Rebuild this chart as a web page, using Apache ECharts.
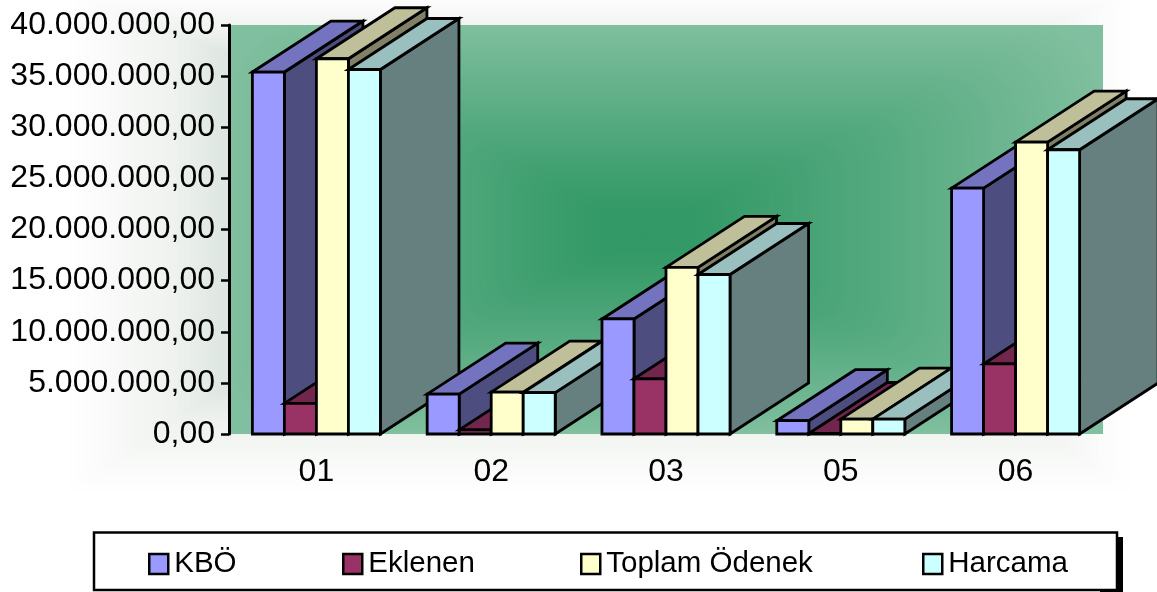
<!DOCTYPE html>
<html>
<head>
<meta charset="utf-8">
<style>html,body{margin:0;padding:0;background:#fff}#c{width:1157px;height:592px}</style>
<script src="https://cdn.jsdelivr.net/npm/echarts@6/dist/echarts.min.js"></script>
</head>
<body>
<div id="c"></div>
<script>
const categories = ['01', '02', '03', '05', '06'];
const seriesNames = ['KBÖ', 'Eklenen', 'Toplam Ödenek', 'Harcama'];
const kbo = [35400000, 3900000, 11250000, 1300000, 24050000];
const eklenen = [3000000, 400000, 5400000, 50000, 6850000];
const toplamOdenek = [36700000, 4100000, 16300000, 1450000, 28550000];
const harcama = [35650000, 4050000, 15600000, 1450000, 27800000];
const seriesValues = [kbo, eklenen, toplamOdenek, harcama];

const frontColors = ['#9999FF', '#993366', '#FFFFCC', '#CCFFFF'];
const topColors = ['#7373BF', '#73264D', '#BFBF99', '#99BFBF'];
const sideColors = ['#4D4D80', '#4D1933', '#808066', '#668080'];
const legendLeft = [148, 342, 580, 922];

const FONT = '"Liberation Sans", Arial, sans-serif';
const BAR_RATIO = 32 / 174.75, DEPTH_RATIO = 78.5 / 174.75, DEPTH_RISE = 51;
const STROKE = 2.8;

function hex(c){return [1,3,5].map(i=>parseInt(c.substr(i,2),16));}
function mix(a,b,t){const x=hex(a),y=hex(b);return 'rgb('+x.map((v,i)=>Math.round(v+(y[i]-v)*t)).join(',')+')';}

const graphics = [];
// soft glow behind the plot
const GN = 70;
for (let i = GN; i >= 0; i--) {
  const t = i / GN;
  const l = 229 - 165 * t, top = 25 + (0.45 - t) * 64;
  const b = 434 + (t - 0.45) * 111, r = 1103 + (t - 0.8) * 160;
  const col = t < 0.35 ? mix('#DCE5DF', '#EFF2EF', t / 0.35) : mix('#EFF2EF', '#FFFFFF', (t - 0.35) / 0.65);
  graphics.push({type:'rect', silent:true, z:-30, shape:{x:l,y:top,width:r-l,height:b-top,r:12*t}, style:{fill:col}});
}
// plot wall, green rectangular gradient
const PN = 110, cx = 645, cy = 232;
graphics.push({type:'rect', silent:true, z:-20, shape:{x:229,y:25,width:874,height:409}, style:{fill:'#80BF9F'}});
for (let i = PN; i >= 0; i--) {
  const t = i / PN;
  const l = cx - (cx - 229) * t, r = cx + (1103 - cx) * t, top = cy - (cy - 25) * t, b = cy + (434 - cy) * t;
  const k = Math.pow(Math.min(1, Math.max(0, (t - 0.1) / 0.9)), 1.1);
  graphics.push({type:'rect', silent:true, z:-19, shape:{x:l,y:top,width:r-l,height:b-top,r:t<1?70*t:0}, style:{fill:mix('#339966','#80BF9F',k)}});
}
// legend frame
graphics.push({type:'rect', silent:true, z:-5, shape:{x:1100,y:537,width:23,height:55}, style:{fill:'#000'}});
graphics.push({type:'rect', silent:true, z:-4, shape:{x:94,y:532.5,width:1023,height:57.5}, style:{fill:'#fff',stroke:'#000',lineWidth:2.5}});

function renderBar(params, api) {
  const s = params.seriesIndex, cat = api.value(0), val = api.value(1);
  const base = api.coord([cat, 0]), top = api.coord([cat, val]);
  const band = api.size([1, 0])[0];
  const w = band * BAR_RATIO, dx = band * DEPTH_RATIO, dy = -DEPTH_RISE;
  const x0 = base[0] + (s - 2) * w, x1 = x0 + w, y0 = base[1], y1 = top[1];
  const st = f => ({fill:f, stroke:'#000', lineWidth:STROKE, lineJoin:'miter'});
  const z = cat * 10 + s * 2;
  const poly = (pts, f, dz) => ({type:'polygon', z2:z*3+dz, shape:{points:pts}, style:st(f)});
  return {type:'group', children:[
    poly([[x1,y0],[x1+dx,y0+dy],[x1+dx,y1+dy],[x1,y1]], sideColors[s], 0),
    poly([[x0,y1],[x0+dx,y1+dy],[x1+dx,y1+dy],[x1,y1]], topColors[s], 1),
    poly([[x0,y0],[x0,y1],[x1,y1],[x1,y0]], frontColors[s], 2)
  ]};
}

const option = {
  animation:false,
  backgroundColor:'#fff',
  graphic:{elements:graphics},
  grid:{left:229,right:54,top:25,bottom:158,containLabel:false},
  xAxis:{type:'category',data:categories,
    axisLine:{show:false},axisTick:{show:false},splitLine:{show:false},
    axisLabel:{color:'#000',fontFamily:FONT,fontSize:32,margin:22}},
  yAxis:{type:'value',min:0,max:40000000,interval:5000000,
    splitLine:{show:false},
    axisLine:{show:true,lineStyle:{color:'#000',width:3}},
    axisTick:{show:true,length:8,lineStyle:{color:'#000',width:2.5}},
    axisLabel:{color:'#000',fontFamily:FONT,fontSize:32,margin:14,padding:[3,0,0,0],
      formatter:v=>String(v).replace(/\B(?=(\d{3})+$)/g,'.')+',00'}},
  legend:seriesNames.map((n,i)=>({
    data:[{name:n,icon:'rect',itemStyle:{color:frontColors[i],borderColor:'#000',borderWidth:2.5}}],
    left:legendLeft[i],top:549,padding:0,itemWidth:19,itemHeight:20,selectedMode:false,
    textStyle:{color:'#000',fontFamily:FONT,fontSize:29.5,padding:[0,0,2,1]}
  })),
  series:seriesNames.map((n,s)=>({
    name:n,type:'custom',coordinateSystem:'cartesian2d',
    itemStyle:{color:frontColors[s]},
    renderItem:renderBar,clip:false,
    encode:{x:0,y:1},
    data:seriesValues[s].map((v,i)=>[i,v])
  }))
};
echarts.init(document.getElementById('c'),null,{renderer:'canvas'}).setOption(option);
</script>
</body>
</html>
